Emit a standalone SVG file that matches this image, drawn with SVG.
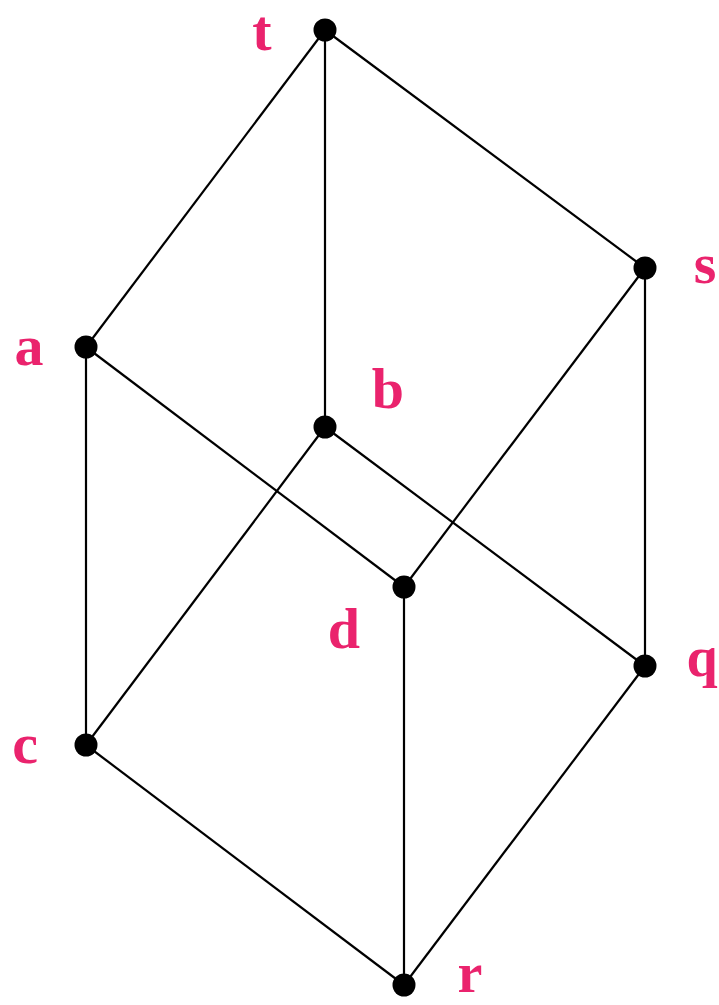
<svg xmlns="http://www.w3.org/2000/svg" width="719" height="1005" viewBox="0 0 719 1005">
<style>
.e{stroke:#000;stroke-width:2.2;fill:none}
.n{fill:#000}
.l{font-family:"Liberation Serif",serif;font-weight:bold;font-size:58px;fill:#ea236d;text-anchor:middle}
</style>
<rect width="719" height="1005" fill="#fff"/>
<g id="edges">
<line class="e" x1="325" y1="30" x2="86" y2="347"/>
<line class="e" x1="325" y1="30" x2="325" y2="427"/>
<line class="e" x1="325" y1="30" x2="645" y2="268"/>
<line class="e" x1="86" y1="347" x2="86" y2="745"/>
<line class="e" x1="86" y1="347" x2="404" y2="587"/>
<line class="e" x1="325" y1="427" x2="86" y2="745"/>
<line class="e" x1="325" y1="427" x2="645" y2="666"/>
<line class="e" x1="645" y1="268" x2="404" y2="587"/>
<line class="e" x1="645" y1="268" x2="645" y2="666"/>
<line class="e" x1="404" y1="587" x2="404" y2="985"/>
<line class="e" x1="86" y1="745" x2="404" y2="985"/>
<line class="e" x1="645" y1="666" x2="404" y2="985"/>
</g>
<g id="t"><circle class="n" cx="325" cy="30" r="11.5"/><text class="l" x="262" y="50">t</text></g>
<g id="s"><circle class="n" cx="645" cy="268" r="11.5"/><text class="l" x="705" y="283">s</text></g>
<g id="a"><circle class="n" cx="86" cy="347" r="11.5"/><text class="l" x="29" y="365">a</text></g>
<g id="b"><circle class="n" cx="325" cy="427" r="11.5"/><text class="l" x="388" y="408">b</text></g>
<g id="d"><circle class="n" cx="404" cy="587" r="11.5"/><text class="l" x="344" y="648">d</text></g>
<g id="q"><circle class="n" cx="645" cy="666" r="11.5"/><text class="l" x="702" y="676" style="font-size:56px">q</text></g>
<g id="c"><circle class="n" cx="86" cy="745" r="11.5"/><text class="l" x="25" y="763">c</text></g>
<g id="r"><circle class="n" cx="404" cy="985" r="11.5"/><text class="l" x="470" y="992" style="font-size:56px">r</text></g>
</svg>
